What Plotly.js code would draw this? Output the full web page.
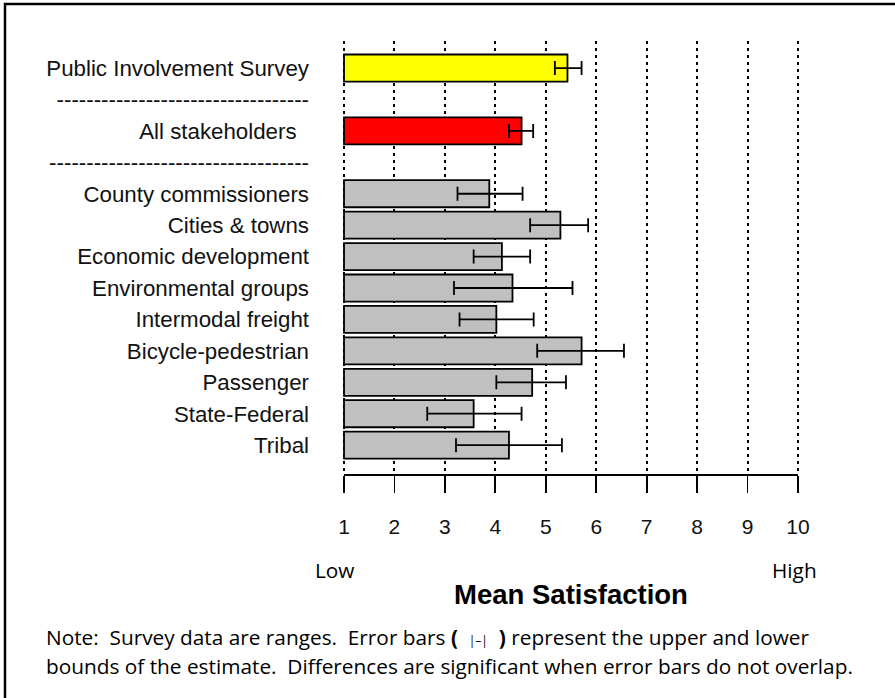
<!DOCTYPE html>
<html>
<head>
<meta charset="utf-8">
<script src="https://cdn.plot.ly/plotly-3.0.1.min.js"></script>
<style>
  html, body { margin: 0; padding: 0; background: #ffffff; }
  #chart { width: 895px; height: 698px; }
</style>
</head>
<body>
<div id="chart"></div>
<script>
// ---- data ----
var sep1 = "----------------------------------";
var sep2 = "-----------------------------------";
var surveyLabel = ["Public Involvement Survey"];
var surveyMean  = [5.43];
var surveyLow   = [5.18];
var surveyHigh  = [5.71];

var allLabel = ["All stakeholders\u00a0\u00a0"];
var allMean  = [4.52];
var allLow   = [4.27];
var allHigh  = [4.75];

var groupLabels = ["County commissioners", "Cities & towns", "Economic development",
                   "Environmental groups", "Intermodal freight", "Bicycle-pedestrian",
                   "Passenger", "State-Federal", "Tribal"];
var groupMean = [3.88, 5.29, 4.13, 4.34, 4.02, 5.71, 4.73, 3.57, 4.27];
var groupLow  = [3.25, 4.69, 3.57, 3.18, 3.29, 4.83, 4.02, 2.65, 3.22];
var groupHigh = [4.54, 5.84, 4.69, 5.53, 4.76, 6.55, 5.40, 4.52, 5.32];

var scaleTicks = [1, 2, 3, 4, 5, 6, 7, 8, 9, 10];
var scaleTickText = ["1", "2", "3", "4", "5", "6", "7", "8", "9", "10"];
var scaleBase = 1;

var categoryOrder = surveyLabel.concat([sep1], allLabel, [sep2], groupLabels);

function barTrace(labels, mean, low, high, color) {
  return {
    type: "bar",
    orientation: "h",
    y: labels,
    x: mean.map(function (v) { return v - scaleBase; }),
    base: scaleBase,
    width: 0.86,
    marker: { color: color, line: { color: "#000000", width: 1.8 } },
    error_x: {
      type: "data",
      symmetric: false,
      array: high.map(function (h, i) { return h - mean[i]; }),
      arrayminus: low.map(function (l, i) { return mean[i] - l; }),
      color: "#000000",
      thickness: 1.8,
      width: 7
    },
    hoverinfo: "skip",
    showlegend: false
  };
}

var traces = [
  barTrace(surveyLabel, surveyMean, surveyLow, surveyHigh, "#FFFF00"),
  barTrace(allLabel, allMean, allLow, allHigh, "#FF0000"),
  barTrace(groupLabels, groupMean, groupLow, groupHigh, "#C0C0C0")
];

var labelFont = { family: "'Liberation Sans', Arial, sans-serif", size: 22.3, color: "#111111" };
var tickFont = { family: "'Liberation Sans', Arial, sans-serif", size: 21, color: "#111111" };
var noteFont = { family: "'Open Sans', sans-serif", size: 20.8, color: "#000000" };

// plot area spans x = 0.96..10.04 so that the 1 and 10 grid lines stay inside it
var layout = {
  width: 895,
  height: 698,
  margin: { l: 342, r: 95, t: 41, b: 223 },
  paper_bgcolor: "#ffffff",
  plot_bgcolor: "#ffffff",
  bargap: 0,
  xaxis: {
    range: [0.96, 10.04],
    tickvals: scaleTicks,
    ticktext: scaleTickText,
    showgrid: true,
    gridcolor: "#000000",
    gridwidth: 2,
    griddash: "3px,4px",
    zeroline: false,
    showline: false,
    ticks: "outside",
    ticklen: 17,
    tickwidth: 1.8,
    tickcolor: "#000000",
    ticklabelstandoff: 16,
    tickfont: tickFont,
    title: {
      text: "<b>Mean Satisfaction</b>",
      font: { family: "'Liberation Sans', Arial, sans-serif", size: 27.5, color: "#000000" },
      standoff: 47
    },
    fixedrange: true
  },
  yaxis: {
    type: "category",
    categoryorder: "array",
    categoryarray: categoryOrder,
    tickvals: categoryOrder,
    ticktext: categoryOrder,
    range: [12.95, -0.86],
    showgrid: false,
    zeroline: false,
    showline: false,
    ticks: "",
    ticklabelstandoff: 32,
    tickfont: labelFont,
    fixedrange: true
  },
  annotations: [
    { xref: "paper", yref: "paper", x: -0.017, y: -0.219, text: "Low",
      showarrow: false, xanchor: "center", yanchor: "middle", font: noteFont },
    { xref: "paper", yref: "paper", x: 0.989, y: -0.219, text: "High",
      showarrow: false, xanchor: "center", yanchor: "middle", font: noteFont },
    { xref: "paper", yref: "paper", x: -0.6507, y: -0.373,
      text: "Note:  Survey data are ranges.  Error bars <b>(</b>  <span style='font-size:12px;color:#000000'>|\u2013|</span>  <b>)</b> represent the upper and lower",
      showarrow: false, xanchor: "left", yanchor: "middle", font: noteFont },
    { xref: "paper", yref: "paper", x: -0.6507, y: -0.440,
      text: "bounds of the estimate.  Differences are significant when error bars do not overlap.",
      showarrow: false, xanchor: "left", yanchor: "middle", font: noteFont }
  ],
  shapes: [
    { type: "rect", xref: "paper", yref: "paper",
      x0: -0.7358, x1: 1.24, y0: -0.56, y1: 1.0853,
      line: { color: "#000000", width: 2.5 }, fillcolor: "rgba(0,0,0,0)", layer: "above" },
    { type: "line", xref: "x", yref: "paper", x0: 1, x1: 10, y0: 0, y1: 0,
      line: { color: "#000000", width: 1.8 } }
  ]
};

Plotly.newPlot("chart", traces, layout, { staticPlot: true, displayModeBar: false });
</script>
</body>
</html>
